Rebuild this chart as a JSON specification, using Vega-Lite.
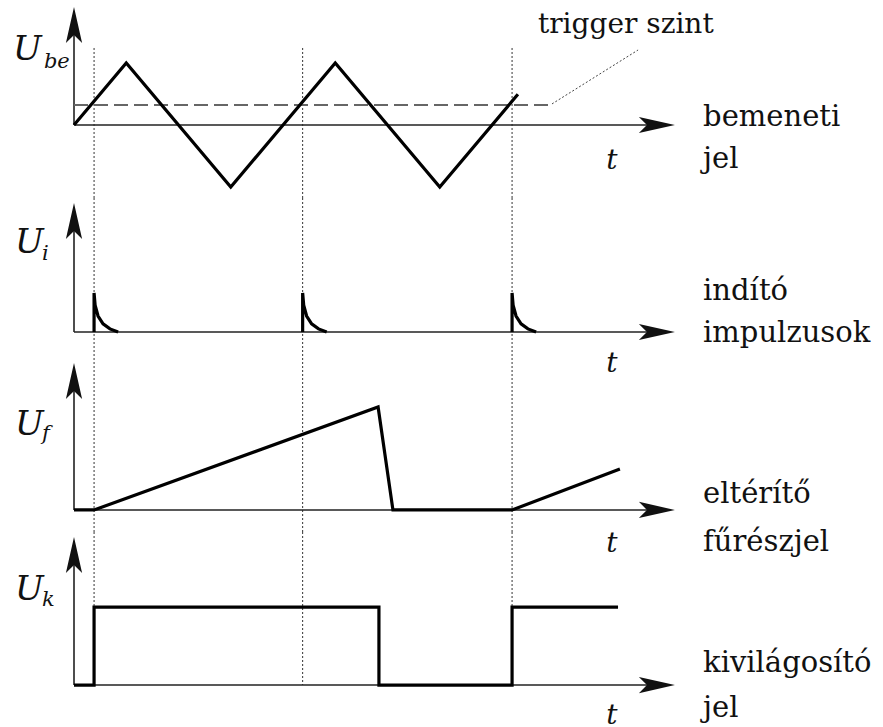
{
  "$schema": "https://vega.github.io/schema/vega-lite/v6.json",
  "padding": 0,
  "spacing": 0,
  "bounds": "flush",
  "config": {
    "view": {"stroke": null},
    "axis": {"disable": true},
    "text": {"font": "DejaVu Serif", "fontSize": 29, "color": "#111", "align": "left", "baseline": "alphabetic"}
  },
  "datasets": {
    "tri": [{"t": 0, "v": 0}, {"t": 25, "v": 1}, {"t": 75, "v": -1}, {"t": 125, "v": 1}, {"t": 175, "v": -1}, {"t": 212.4, "v": 0.496}],
    "trig": [{"t": 9.6}, {"t": 109.4}, {"t": 209.6}],
    "pulses": [
      {"p": 1, "i": 0, "t": 9.6, "v": 0}, {"p": 1, "i": 1, "t": 9.6, "v": 1}, {"p": 1, "i": 2, "t": 10.1, "v": 0.69}, {"p": 1, "i": 3, "t": 11.5, "v": 0.41}, {"p": 1, "i": 4, "t": 13.9, "v": 0.21}, {"p": 1, "i": 5, "t": 17.2, "v": 0.08}, {"p": 1, "i": 6, "t": 21.1, "v": 0},
      {"p": 2, "i": 0, "t": 109.4, "v": 0}, {"p": 2, "i": 1, "t": 109.4, "v": 1}, {"p": 2, "i": 2, "t": 109.9, "v": 0.69}, {"p": 2, "i": 3, "t": 111.3, "v": 0.41}, {"p": 2, "i": 4, "t": 113.7, "v": 0.21}, {"p": 2, "i": 5, "t": 117.0, "v": 0.08}, {"p": 2, "i": 6, "t": 120.9, "v": 0},
      {"p": 3, "i": 0, "t": 209.6, "v": 0}, {"p": 3, "i": 1, "t": 209.6, "v": 1}, {"p": 3, "i": 2, "t": 210.1, "v": 0.69}, {"p": 3, "i": 3, "t": 211.5, "v": 0.41}, {"p": 3, "i": 4, "t": 213.9, "v": 0.21}, {"p": 3, "i": 5, "t": 217.2, "v": 0.08}, {"p": 3, "i": 6, "t": 221.1, "v": 0}
    ],
    "saw": [{"i": 0, "t": 0, "v": 0}, {"i": 1, "t": 9.6, "v": 0}, {"i": 2, "t": 145.5, "v": 1}, {"i": 3, "t": 152.6, "v": 0}, {"i": 4, "t": 209.6, "v": 0}, {"i": 5, "t": 261.2, "v": 0.398}],
    "gate": [{"i": 0, "t": 0, "v": 0}, {"i": 1, "t": 9.6, "v": 0}, {"i": 2, "t": 9.6, "v": 1}, {"i": 3, "t": 145.9, "v": 1}, {"i": 4, "t": 145.9, "v": 0}, {"i": 5, "t": 209.6, "v": 0}, {"i": 6, "t": 209.6, "v": 1}, {"i": 7, "t": 260.3, "v": 1}]
  },
  "vconcat": [
    {
      "width": 883, "height": 198,
      "data": {"values": [{}]},
      "layer": [
        {"data": {"name": "trig"}, "mark": {"type": "rule", "color": "#333", "strokeWidth": 1, "strokeDash": [2, 2]},
         "encoding": {"x": {"field": "t", "type": "quantitative", "scale": {"domain": [-35.407, 387.08], "nice": false, "zero": false}, "axis": null},
                      "y": {"datum": 1.242, "scale": {"domain": [-1.177, 2.016], "nice": false, "zero": false}, "axis": null}, "y2": {"datum": -1.177}}},
        {"mark": {"type": "rule", "color": "#222", "strokeWidth": 1.6}, "encoding": {"x": {"datum": 0}, "y": {"datum": 0}, "y2": {"datum": 1.75}}},
        {"mark": {"type": "rule", "color": "#222", "strokeWidth": 1.6}, "encoding": {"x": {"datum": 0}, "x2": {"datum": 275}, "y": {"datum": 0}}},
        {"mark": {"type": "point", "shape": "M0,0L0.45,2L0,1.55L-0.45,2Z", "size": 1296, "filled": true, "color": "#111", "opacity": 1}, "encoding": {"x": {"datum": 0}, "y": {"datum": 1.903}}},
        {"mark": {"type": "point", "shape": "M0,0L0.45,2L0,1.55L-0.45,2Z", "size": 1296, "filled": true, "color": "#111", "opacity": 1, "angle": 90}, "encoding": {"x": {"datum": 287.5}, "y": {"datum": 0}}},
        {"mark": {"type": "rule", "color": "#666", "strokeWidth": 1.8, "strokeDash": [14, 6]}, "encoding": {"x": {"datum": 0}, "x2": {"datum": 228.7}, "y": {"datum": 0.323}}},
        {"mark": {"type": "rule", "color": "#444", "strokeWidth": 1, "strokeDash": [2, 2]}, "encoding": {"x": {"datum": 228.7}, "x2": {"datum": 269.9}, "y": {"datum": 0.34}, "y2": {"datum": 1.21}}},
        {"data": {"name": "tri"}, "mark": {"type": "line", "color": "#000", "strokeWidth": 3.2, "strokeJoin": "miter"},
         "encoding": {"x": {"field": "t", "type": "quantitative"}, "y": {"field": "v", "type": "quantitative"}}},
        {"mark": {"type": "text", "text": "U", "fontStyle": "italic", "fontSize": 34}, "encoding": {"x": {"datum": -29.2}, "y": {"datum": 1.048}}},
        {"mark": {"type": "text", "text": "be", "fontStyle": "italic", "fontSize": 21}, "encoding": {"x": {"datum": -14.4}, "y": {"datum": 0.919}}},
        {"mark": {"type": "text", "text": "trigger szint", "fontSize": 28}, "encoding": {"x": {"datum": 222}, "y": {"datum": 1.484}}},
        {"mark": {"type": "text", "text": "t", "fontStyle": "italic", "fontSize": 28, "align": "center"}, "encoding": {"x": {"datum": 257.4}, "y": {"datum": -0.71}}},
        {"mark": {"type": "text", "text": "bemeneti"}, "encoding": {"x": {"datum": 301}, "y": {"datum": -0.016}}},
        {"mark": {"type": "text", "text": "jel"}, "encoding": {"x": {"datum": 301}, "y": {"datum": -0.69}}}
      ]
    },
    {
      "width": 883, "height": 160,
      "data": {"values": [{}]},
      "layer": [
        {"data": {"name": "trig"}, "mark": {"type": "rule", "color": "#333", "strokeWidth": 1, "strokeDash": [2, 2]},
         "encoding": {"x": {"field": "t", "type": "quantitative", "scale": {"domain": [-35.407, 387.08], "nice": false, "zero": false}, "axis": null},
                      "y": {"datum": 3.436, "scale": {"domain": [-0.667, 3.436], "nice": false, "zero": false}, "axis": null}, "y2": {"datum": -0.667}}},
        {"mark": {"type": "rule", "color": "#222", "strokeWidth": 1.6}, "encoding": {"x": {"datum": 0}, "y": {"datum": 0}, "y2": {"datum": 3.0}}},
        {"mark": {"type": "rule", "color": "#222", "strokeWidth": 1.6}, "encoding": {"x": {"datum": 0}, "x2": {"datum": 275}, "y": {"datum": 0}}},
        {"mark": {"type": "point", "shape": "M0,0L0.45,2L0,1.55L-0.45,2Z", "size": 1296, "filled": true, "color": "#111", "opacity": 1}, "encoding": {"x": {"datum": 0}, "y": {"datum": 3.308}}},
        {"mark": {"type": "point", "shape": "M0,0L0.45,2L0,1.55L-0.45,2Z", "size": 1296, "filled": true, "color": "#111", "opacity": 1, "angle": 90}, "encoding": {"x": {"datum": 287.5}, "y": {"datum": 0}}},
        {"data": {"name": "pulses"}, "mark": {"type": "line", "color": "#000", "strokeWidth": 3.2, "interpolate": "linear"},
         "encoding": {"x": {"field": "t", "type": "quantitative"}, "y": {"field": "v", "type": "quantitative"}, "detail": {"field": "p"}, "order": {"field": "i"}}},
        {"mark": {"type": "text", "text": "U", "fontStyle": "italic", "fontSize": 34}, "encoding": {"x": {"datum": -28.2}, "y": {"datum": 2.026}}},
        {"mark": {"type": "text", "text": "i", "fontStyle": "italic", "fontSize": 21}, "encoding": {"x": {"datum": -15.3}, "y": {"datum": 1.846}}},
        {"mark": {"type": "text", "text": "t", "fontStyle": "italic", "fontSize": 28, "align": "center"}, "encoding": {"x": {"datum": 257.4}, "y": {"datum": -1.026}}},
        {"mark": {"type": "text", "text": "indító"}, "encoding": {"x": {"datum": 301}, "y": {"datum": 0.82}}},
        {"mark": {"type": "text", "text": "impulzusok"}, "encoding": {"x": {"datum": 301}, "y": {"datum": -0.256}}}
      ]
    },
    {
      "width": 883, "height": 174,
      "data": {"values": [{}]},
      "layer": [
        {"data": {"name": "trig"}, "mark": {"type": "rule", "color": "#333", "strokeWidth": 1, "strokeDash": [2, 2]},
         "encoding": {"x": {"field": "t", "type": "quantitative", "scale": {"domain": [-35.407, 387.08], "nice": false, "zero": false}, "axis": null},
                      "y": {"datum": 1.476, "scale": {"domain": [-0.214, 1.476], "nice": false, "zero": false}, "axis": null}, "y2": {"datum": -0.214}}},
        {"mark": {"type": "rule", "color": "#222", "strokeWidth": 1.6}, "encoding": {"x": {"datum": 0}, "y": {"datum": 0}, "y2": {"datum": 1.3}}},
        {"mark": {"type": "rule", "color": "#222", "strokeWidth": 1.6}, "encoding": {"x": {"datum": 0}, "x2": {"datum": 275}, "y": {"datum": 0}}},
        {"mark": {"type": "point", "shape": "M0,0L0.45,2L0,1.55L-0.45,2Z", "size": 1296, "filled": true, "color": "#111", "opacity": 1}, "encoding": {"x": {"datum": 0}, "y": {"datum": 1.427}}},
        {"mark": {"type": "point", "shape": "M0,0L0.45,2L0,1.55L-0.45,2Z", "size": 1296, "filled": true, "color": "#111", "opacity": 1, "angle": 90}, "encoding": {"x": {"datum": 287.5}, "y": {"datum": 0}}},
        {"data": {"name": "saw"}, "mark": {"type": "line", "color": "#000", "strokeWidth": 3.2, "strokeJoin": "miter"},
         "encoding": {"x": {"field": "t", "type": "quantitative"}, "y": {"field": "v", "type": "quantitative"}, "order": {"field": "i"}}},
        {"mark": {"type": "text", "text": "U", "fontStyle": "italic", "fontSize": 34}, "encoding": {"x": {"datum": -28.2}, "y": {"datum": 0.728}}},
        {"mark": {"type": "text", "text": "f", "fontStyle": "italic", "fontSize": 21}, "encoding": {"x": {"datum": -15.3}, "y": {"datum": 0.68}}},
        {"mark": {"type": "text", "text": "t", "fontStyle": "italic", "fontSize": 28, "align": "center"}, "encoding": {"x": {"datum": 257.4}, "y": {"datum": -0.408}}},
        {"mark": {"type": "text", "text": "eltérítő"}, "encoding": {"x": {"datum": 301}, "y": {"datum": 0.068}}},
        {"mark": {"type": "text", "text": "fűrészjel"}, "encoding": {"x": {"datum": 301}, "y": {"datum": -0.398}}}
      ]
    },
    {
      "width": 883, "height": 195,
      "data": {"values": [{}]},
      "layer": [
        {"data": {"name": "trig"}, "mark": {"type": "rule", "color": "#333", "strokeWidth": 1, "strokeDash": [2, 2]},
         "encoding": {"x": {"field": "t", "type": "quantitative", "scale": {"domain": [-35.407, 387.08], "nice": false, "zero": false}, "axis": null},
                      "y": {"datum": 1.962, "scale": {"domain": [-0.538, 1.962], "nice": false, "zero": false}, "axis": null}, "y2": {"datum": 0}}},
        {"mark": {"type": "rule", "color": "#222", "strokeWidth": 1.6}, "encoding": {"x": {"datum": 0}, "y": {"datum": 0}, "y2": {"datum": 1.7}}},
        {"mark": {"type": "rule", "color": "#222", "strokeWidth": 1.6}, "encoding": {"x": {"datum": 0}, "x2": {"datum": 275}, "y": {"datum": 0}}},
        {"mark": {"type": "point", "shape": "M0,0L0.45,2L0,1.55L-0.45,2Z", "size": 1296, "filled": true, "color": "#111", "opacity": 1}, "encoding": {"x": {"datum": 0}, "y": {"datum": 1.897}}},
        {"mark": {"type": "point", "shape": "M0,0L0.45,2L0,1.55L-0.45,2Z", "size": 1296, "filled": true, "color": "#111", "opacity": 1, "angle": 90}, "encoding": {"x": {"datum": 287.5}, "y": {"datum": 0}}},
        {"data": {"name": "gate"}, "mark": {"type": "line", "color": "#000", "strokeWidth": 3.2, "strokeJoin": "miter"},
         "encoding": {"x": {"field": "t", "type": "quantitative"}, "y": {"field": "v", "type": "quantitative"}, "order": {"field": "i"}}},
        {"mark": {"type": "text", "text": "U", "fontStyle": "italic", "fontSize": 34}, "encoding": {"x": {"datum": -28.2}, "y": {"datum": 1.09}}},
        {"mark": {"type": "text", "text": "k", "fontStyle": "italic", "fontSize": 21}, "encoding": {"x": {"datum": -15.3}, "y": {"datum": 1.01}}},
        {"mark": {"type": "text", "text": "t", "fontStyle": "italic", "fontSize": 28, "align": "center"}, "encoding": {"x": {"datum": 257.4}, "y": {"datum": -0.5}}},
        {"mark": {"type": "text", "text": "kivilágosító"}, "encoding": {"x": {"datum": 301}, "y": {"datum": 0.167}}},
        {"mark": {"type": "text", "text": "jel"}, "encoding": {"x": {"datum": 301}, "y": {"datum": -0.41}}}
      ]
    }
  ]
}
